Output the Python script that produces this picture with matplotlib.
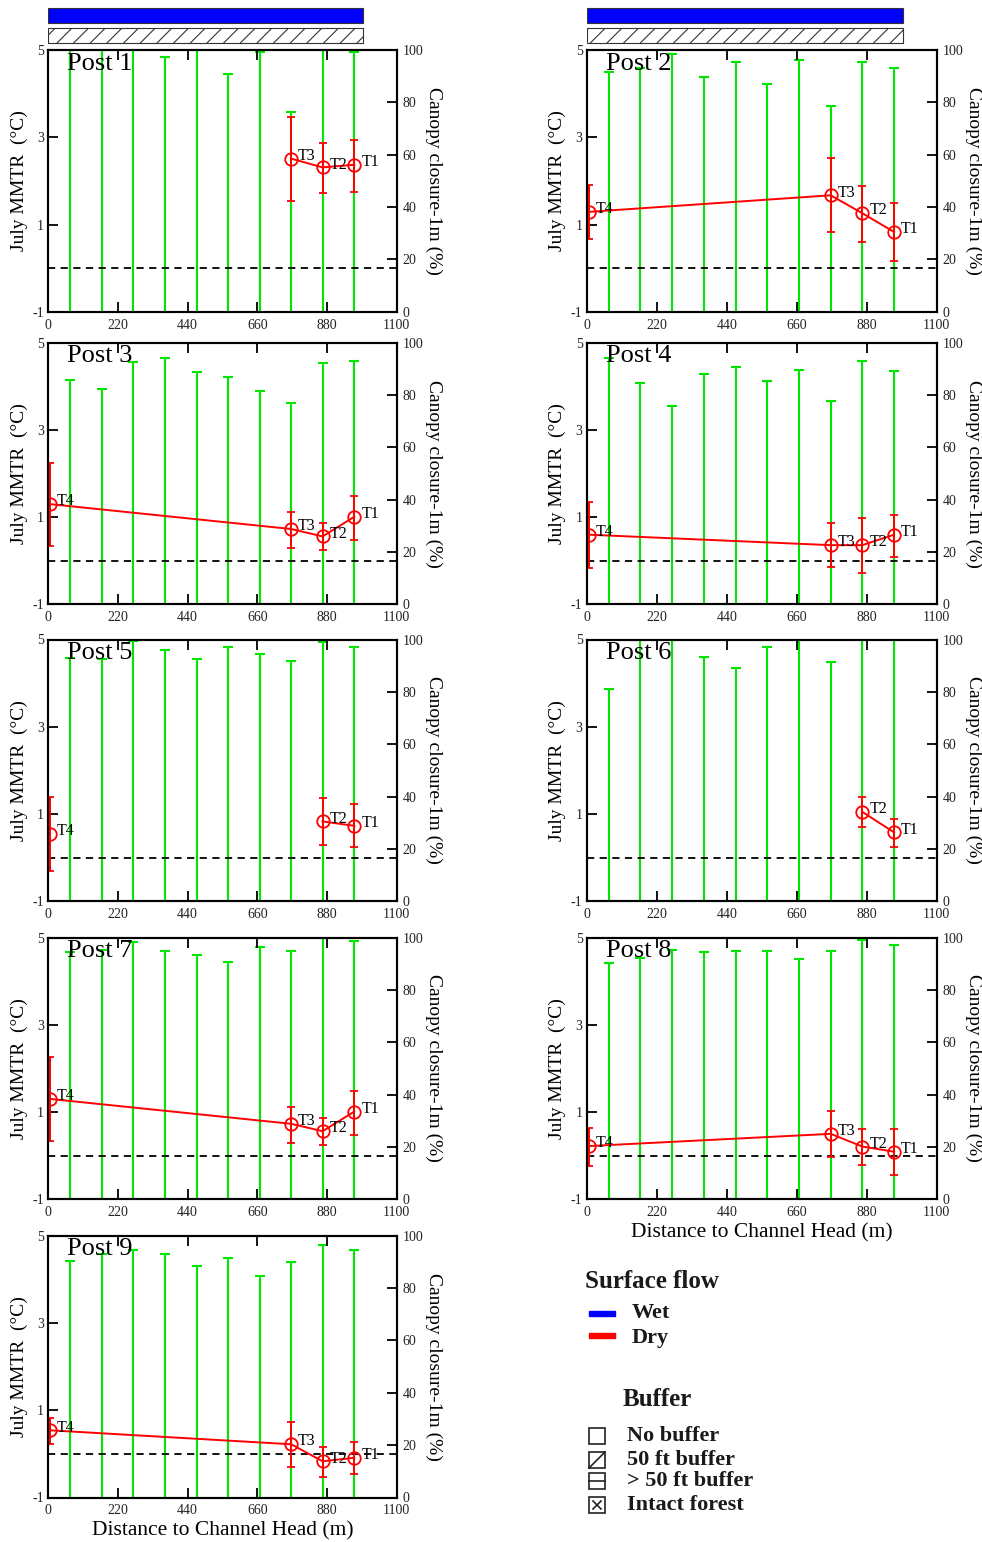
import matplotlib
matplotlib.use('Agg')
import matplotlib.pyplot as plt
from matplotlib.patches import Rectangle
from matplotlib.lines import Line2D
import numpy as np

plt.rcParams['font.family'] = ['Liberation Serif', 'DejaVu Serif']
plt.rcParams['hatch.linewidth'] = 0.8
plt.rcParams['axes.unicode_minus'] = False

# distance to channel head of the canopy plots (m)
site_x = [70, 169, 269, 368, 468, 567, 667, 767, 866, 966]
# temperature loggers T4..T1
t_names = ['T4', 'T3', 'T2', 'T1']
t_x = [6, 767, 866, 966]

nan = np.nan
post_names = ['Post 1', 'Post 2', 'Post 3', 'Post 4', 'Post 5',
              'Post 6', 'Post 7', 'Post 8', 'Post 9']

# canopy closure-1m (%) at each site
canopy = [
    [100, 100, 100, 97.2, 100, 90.7, 99.4, 76.2, 100, 99.1],
    [91.7, 93.0, 98.3, 89.6, 95.4, 86.9, 96.2, 78.7, 95.4, 93.1],
    [85.7, 82.4, 92.6, 94.0, 88.7, 86.9, 81.5, 76.9, 92.1, 93.0],
    [94.3, 84.5, 75.8, 88.0, 90.7, 85.4, 89.6, 77.6, 93.1, 89.3],
    [93.0, 92.4, 99.5, 95.9, 92.5, 97.2, 94.4, 91.8, 99.1, 97.2],
    [81.1, 100, 100, 93.5, 89.3, 97.2, 100, 91.5, 100, 100],
    [94.6, 95.2, 98.2, 94.9, 93.4, 90.7, 96.2, 94.9, 100, 98.7],
    [90.3, 92.0, 95.2, 94.3, 94.9, 94.9, 91.6, 94.9, 99.2, 97.2],
    [90.4, 93.2, 94.5, 93.1, 88.6, 91.3, 84.5, 89.9, 96.3, 94.5],
]

# July MMTR (deg C) for T4, T3, T2, T1 with lower / upper error limits
mmtr = [
    [nan, 2.51, 2.31, 2.37],
    [1.29, 1.67, 1.26, 0.83],
    [1.30, 0.73, 0.56, 1.01],
    [0.60, 0.36, 0.36, 0.60],
    [0.54, nan, 0.83, 0.73],
    [nan, nan, 1.05, 0.58],
    [1.30, 0.73, 0.56, 1.01],
    [0.22, 0.50, 0.21, 0.09],
    [0.54, 0.22, -0.17, -0.09],
]
mmtr_lo = [
    [nan, 1.53, 1.72, 1.74],
    [0.66, 0.82, 0.61, 0.16],
    [0.34, 0.30, 0.24, 0.48],
    [-0.16, -0.15, -0.28, 0.09],
    [-0.30, nan, 0.28, 0.24],
    [nan, nan, 0.71, 0.24],
    [0.34, 0.30, 0.24, 0.48],
    [-0.23, -0.02, -0.21, -0.44],
    [0.22, -0.31, -0.52, -0.47],
]
mmtr_hi = [
    [nan, 3.46, 2.87, 2.94],
    [1.91, 2.52, 1.89, 1.50],
    [2.25, 1.12, 0.87, 1.49],
    [1.35, 0.87, 0.99, 1.06],
    [1.38, nan, 1.37, 1.22],
    [nan, nan, 1.38, 0.89],
    [2.25, 1.12, 0.87, 1.49],
    [0.64, 1.03, 0.60, 0.60],
    [0.83, 0.72, 0.15, 0.28],
]

# surface flow / buffer bars shown above the top panels (extent in m)
top_bar_end = [995, 995]

W, H = 982, 1542
fig = plt.figure(figsize=(W / 100, H / 100), dpi=100)


def px_rect(x0, y0, x1, y1):
    return [x0 / W, 1 - y1 / H, (x1 - x0) / W, (y1 - y0) / H]


cols = [(48.3, 396.7), (586.7, 936.7)]
row_top = [50, 342.7, 639.5, 937.5, 1235.7]
ph = 261.8
green = '#00e600'

for i in range(9):
    r, c = i // 2, i % 2
    x0, x1 = cols[c]
    y0 = row_top[r]
    ax = fig.add_axes(px_rect(x0, y0, x1, y0 + ph))
    ax2 = ax.twinx()
    ax.set_zorder(ax2.get_zorder() + 1)
    ax.patch.set_visible(False)

    # canopy closure
    ax2.vlines(site_x, 0, canopy[i], color=green, lw=1.5)
    ax2.plot(site_x, canopy[i], ls='none', marker='_', ms=7, mew=1.5, color=green)
    ax2.set_ylim(0, 100)
    ax2.set_yticks(range(0, 101, 20))

    # temperature
    ax.axhline(0, color='k', ls=(0, (4, 3)), lw=1.3)
    m = np.array(mmtr[i])
    lo = np.array(mmtr_lo[i])
    hi = np.array(mmtr_hi[i])
    ax.errorbar(t_x, m, yerr=[m - lo, hi - m], color='red', marker='o', mfc='none',
                ms=9, mew=1.3, lw=1.4, capsize=3, elinewidth=1.4, capthick=1.4)
    for name, xx, yy in zip(t_names, t_x, m):
        if not np.isnan(yy):
            ax.annotate(name, (xx, yy), xytext=(5, 2), textcoords='offset points',
                        fontsize=11.5, va='center')

    ax.set_xlim(0, 1100)
    ax.set_xticks(range(0, 1101, 220))
    ax.set_ylim(-1, 5)
    ax.set_yticks([-1, 1, 3, 5])
    ax.tick_params(direction='in', length=7, width=1.3, labelsize=10, top=True,
                   labelcolor='#222222')
    ax.tick_params(axis='x', pad=5)
    ax.tick_params(axis='y', pad=3)
    ax2.tick_params(direction='in', length=7, width=1.3, labelsize=10, pad=4,
                    labelcolor='#222222')
    for a in (ax, ax2):
        for s in a.spines.values():
            s.set_linewidth(1.5)

    ax.text(0.055, 0.99, post_names[i], transform=ax.transAxes, fontsize=19, va='top')
    ax.set_ylabel('July MMTR  (°C)', fontsize=14)
    ax.yaxis.set_label_coords(-0.058, 0.5)
    ax2.set_ylabel('Canopy closure-1m (%)', fontsize=14, rotation=270, va='bottom')
    ax2.yaxis.set_label_coords(1.08, 0.5)
    if i >= 7:
        ax.set_xlabel('Distance to Channel Head (m)', fontsize=15.5, va='top')
        ax.xaxis.set_label_coords(0.5, -0.09)

    if r == 0:
        bx = fig.add_axes(px_rect(x0, 5.5, x1, 45.5))
        bx.barh([1], [top_bar_end[c]], height=0.72, left=0, color='#0000ff',
                edgecolor='#333333', lw=0.8)
        bx.barh([0], [top_bar_end[c]], height=0.72, left=0, color='white',
                edgecolor='#333333', lw=0.8, hatch='//')
        bx.set_xlim(0, 1100)
        bx.set_ylim(-0.5, 1.5)
        bx.axis('off')


# legend (bottom right)
def fx(x):
    return x / W


def fy(y):
    return 1 - y / H


def seg(xa, ya, xb, yb):
    fig.add_artist(Line2D([fx(xa), fx(xb)], [fy(ya), fy(yb)], color='#222222', lw=1.2,
                          transform=fig.transFigure))


head_kw = dict(fontsize=18, weight='bold', color='#1a1a1a', va='center')
item_kw = dict(fontsize=16, weight='bold', color='#1a1a1a', va='center')
fig.text(fx(585), fy(1281), 'Surface flow', **head_kw)
fig.add_artist(Rectangle((fx(589), fy(1316)), 26 / W, 5 / H, color='#0000ff',
                         transform=fig.transFigure))
fig.text(fx(632), fy(1313), 'Wet', **item_kw)
fig.add_artist(Rectangle((fx(589), fy(1338)), 26 / W, 5 / H, color='#ff0000',
                         transform=fig.transFigure))
fig.text(fx(632), fy(1338), 'Dry', **item_kw)
fig.text(fx(623), fy(1399), 'Buffer', **head_kw)

buffer_names = ['No buffer', '50 ft buffer', '> 50 ft buffer', 'Intact forest']
buffer_y = [1436, 1460, 1481, 1505]
for k, (name, yy) in enumerate(zip(buffer_names, buffer_y)):
    bx0, by0 = 589, yy - 8
    fig.add_artist(Rectangle((fx(bx0), fy(by0 + 16)), 16 / W, 16 / H, facecolor='white',
                             edgecolor='#222222', lw=1.2, transform=fig.transFigure))
    if k == 1:
        seg(bx0, by0 + 16, bx0 + 16, by0)
    elif k == 2:
        seg(bx0, by0 + 8, bx0 + 16, by0 + 8)
    elif k == 3:
        seg(bx0 + 4, by0 + 4, bx0 + 12, by0 + 12)
        seg(bx0 + 4, by0 + 12, bx0 + 12, by0 + 4)
    fig.text(fx(627), fy(yy), name, **item_kw)

fig.savefig('out.png', dpi=100)
